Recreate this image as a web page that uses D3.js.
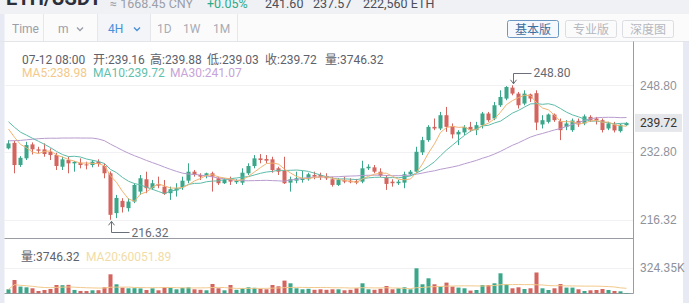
<!DOCTYPE html>
<html>
<head>
<meta charset="utf-8">
<script src="https://cdn.jsdelivr.net/npm/d3@7"></script>
<style>
  html, body { margin: 0; padding: 0; background: #fff; overflow: hidden; }
  svg { display: block; font-family: Roboto, "Noto Sans CJK SC", "Noto Sans", sans-serif; }
</style>
</head>
<body>
<svg id="chart" width="689" height="303"></svg>
<script>
// ETH/USDT 4H candles, oldest first
const opens = [
  233.57,234.90,229.55,231.16,234.53,233.33,233.33,232.75,231.96,229.14,
  230.75,229.95,230.10,229.70,229.55,230.35,229.31,227.55,217.93,220.89,
  219.13,220.72,223.13,226.11,223.95,224.98,224.33,222.74,223.40,224.19,
  225.77,227.94,227.14,226.98,227.55,226.35,225.15,226.11,225.39,225.29,
  227.55,229.31,231.16,231.00,230.92,228.76,228.18,225.29,225.77,225.94,
  226.11,227.14,227.14,226.90,226.11,224.74,225.94,225.77,225.70,225.53,
  228.76,228.99,227.94,226.50,225.53,225.15,225.29,227.31,227.94,232.60,
  235.56,238.76,238.37,241.58,238.97,236.94,237.42,238.76,237.97,239.17,
  241.99,240.78,243.98,245.59,248.24,246.80,244.39,246.60,246.90,239.34,
  239.97,241.75,240.14,238.76,237.97,240.22,239.58,241.17,240.78,240.38,
  238.37,239.34,237.73,239.16
];
const highs = [
  235.56,235.40,231.70,235.15,235.00,233.95,234.77,233.57,232.50,231.55,
  231.55,230.50,231.16,230.35,230.75,230.92,229.95,228.00,222.33,221.54,
  221.54,225.15,227.14,227.94,225.94,226.74,225.94,224.33,225.15,226.74,
  229.96,228.35,227.55,227.70,227.94,226.74,226.35,226.74,226.11,228.76,
  229.96,231.96,232.20,231.96,231.55,229.14,231.55,226.74,227.94,228.18,
  227.70,227.94,227.70,227.55,226.74,226.35,226.74,226.35,226.19,230.58,
  229.72,229.55,228.76,227.14,226.11,225.94,227.94,228.35,233.95,236.36,
  239.17,240.78,242.37,243.58,239.58,237.97,239.17,239.97,239.97,242.37,
  242.37,244.78,247.59,248.60,248.80,247.19,247.59,246.80,247.59,241.58,
  241.99,241.99,240.78,240.38,240.78,240.78,241.75,241.58,241.17,240.78,
  239.97,239.97,239.50,239.88
];
const lows = [
  233.33,227.55,229.10,230.75,232.10,232.37,231.55,230.75,228.35,228.35,
  227.55,227.94,228.75,228.50,229.00,229.14,226.35,216.32,216.73,218.08,
  218.32,220.34,222.33,222.74,223.54,223.95,222.33,221.13,221.93,223.54,
  225.15,226.74,225.94,226.35,223.13,224.74,224.98,224.74,224.98,224.74,
  227.14,228.76,229.96,229.96,227.70,227.14,224.98,223.13,225.15,225.29,
  225.77,226.11,225.94,225.94,224.33,224.50,225.15,225.15,224.90,225.15,
  228.35,227.55,226.60,223.54,224.33,224.74,223.95,226.98,227.55,231.96,
  235.15,237.97,237.97,237.56,235.97,234.36,236.77,237.56,236.77,238.37,
  239.97,240.38,243.58,245.20,246.39,243.19,243.98,244.78,237.97,238.38,
  239.58,239.97,235.56,237.97,237.56,238.76,239.17,239.97,239.34,237.42,
  237.97,237.42,237.40,239.03
];
const closes = [
  234.77,229.55,231.30,234.36,233.33,233.00,232.20,231.95,229.31,230.92,
  229.95,230.30,229.55,229.50,230.35,229.80,227.55,217.52,221.60,219.37,
  220.72,224.74,226.35,223.95,225.15,224.57,222.57,223.71,223.95,225.77,
  227.94,227.14,226.74,227.55,226.74,225.15,225.94,225.54,225.70,227.70,
  229.31,231.16,230.75,230.60,228.35,227.94,225.15,226.11,226.35,226.35,
  227.31,226.74,226.60,226.35,224.74,225.94,225.54,225.39,225.30,228.76,
  229.14,227.94,226.98,224.98,225.15,225.53,227.31,227.94,232.75,235.56,
  238.76,238.37,241.58,238.76,236.94,237.56,238.76,237.97,239.17,241.99,
  240.38,243.98,245.98,248.39,246.80,243.98,246.80,245.60,239.80,240.38,
  241.75,240.38,237.97,239.58,240.30,239.34,241.30,240.38,240.38,238.00,
  239.58,237.90,239.30,239.72
];
const volumes = [
  51900,172600,86900,77800,64900,29800,42800,55800,107700,105200,
  109800,43500,30400,28900,38900,40200,77800,246500,116800,74000,
  64900,66200,63400,42800,64900,38900,77800,68800,51900,71400,
  77800,51900,45400,38900,120700,64900,38900,107700,45400,64900,
  77800,71400,58400,51900,107700,90800,164800,129700,64900,51900,
  58400,45400,51900,45400,51900,51900,38900,45400,64900,129700,
  51900,45400,58400,94700,51900,64900,77800,51900,324350,116800,
  194600,116800,86900,138800,86900,74000,64900,35000,42800,107700,
  107700,129700,259500,116800,64900,77800,55800,64900,270000,64900,
  42800,64900,120000,74000,74000,51900,29800,38900,42800,55800,
  42800,29800,25900,3746.32
];
// closes of the candles just before the first one shown; they seed the moving averages
const priorCloses = [
  228.5,229.2,230.1,229.4,228.8,229.9,230.6,229.8,229.1,230.3,
  229.6,230.2,229.5,230.8,236.5,239.8,242.6,243.5,242.2,241.4,
  242.8,243.1,241.6,240.9,240.2,239.6,239.9,238.4,238.6
];
const priceTicks = [248.80, 232.80, 216.32];
const maPeriods = [5, 10, 30];
const maLabels = ["MA5:238.98", "MA10:239.72", "MA30:241.07"];
const lastBar = { time: "07-12 08:00", open: 239.16, high: 239.88, low: 239.03, close: 239.72, vol: 3746.32 };
const volMaLabel = "MA20:60051.89";
const quote = { cny: "≈ 1668.45 CNY", change: "+0.05%", high: "241.60", low: "237.57", amount: "222,560 ETH" };
const periods = ["1D", "1W", "1M"];
const modes = ["基本版", "专业版", "深度图"];

const UP = "#3aa78a", DOWN = "#d4645e";
const MA_COLORS = ["#f2b36f", "#5cbcaa", "#b89bcf"];
const MA_TEXT = ["#f3c98a", "#5fbfad", "#c6a3d8"];

const svg = d3.select("#chart");
const n = closes.length;
const L = 4.5, R = 633.5, TOP = 41.5, MID = 238.5, BOT = 293.5;

// page chrome
svg.append("rect").attr("x", 0).attr("y", 0).attr("width", 689).attr("height", 14).attr("fill", "#eff1f5");
svg.append("rect").attr("x", 0).attr("y", 14).attr("width", 689).attr("height", 27.5).attr("fill", "#fbfbfc");
svg.append("rect").attr("x", 97).attr("y", 14).attr("width", 53).attr("height", 27.5).attr("fill", "#f3f5f9");
svg.append("rect").attr("x", 0).attr("y", 14).attr("width", 4.5).attr("height", 289).attr("fill", "#e8eaf3");
svg.append("rect").attr("x", 683).attr("y", 41).attr("width", 6).attr("height", 262).attr("fill", "#e8eaf3");

// quote strip
svg.append("text").attr("x", 6).attr("y", 5).attr("font-size", 20).attr("font-weight", "bold").attr("fill", "#2b2f3a").text("ETH/USDT");
const qt = svg.append("g").attr("font-size", 12.5);
qt.append("text").attr("x", 110).attr("y", 8).attr("fill", "#9a9ea8").text(quote.cny);
qt.append("text").attr("x", 207).attr("y", 8).attr("fill", "#2eab88").text(quote.change);
qt.append("text").attr("x", 265).attr("y", 8).attr("fill", "#4a4e58").text(quote.high);
qt.append("text").attr("x", 313).attr("y", 8).attr("fill", "#4a4e58").text(quote.low);
qt.append("text").attr("x", 363).attr("y", 8).attr("fill", "#4a4e58").text(quote.amount);

// toolbar
const tb = svg.append("g").attr("font-size", 12).attr("dominant-baseline", "central");
[43.5, 97.5, 150.5, 237.5].forEach(v => tb.append("line").attr("x1", v).attr("x2", v).attr("y1", 14).attr("y2", 41.5).attr("stroke", "#e6e7eb"));
tb.append("line").attr("x1", 0).attr("x2", 689).attr("y1", 41.5).attr("y2", 41.5).attr("stroke", "#e4e5e9");
tb.append("text").attr("x", 12).attr("y", 29).attr("fill", "#9a9ea8").text("Time");
tb.append("text").attr("x", 58).attr("y", 28.5).attr("fill", "#9a9ea8").text("m");
tb.append("text").attr("x", 108).attr("y", 29).attr("fill", "#4a90d9").text("4H");
[[80, "#9a9ea8"], [137, "#4a90d9"]].forEach(([cx, c]) =>
  tb.append("path").attr("d", `M${cx - 3},27.5 L${cx},30.5 L${cx + 3},27.5`).attr("fill", "none").attr("stroke", c).attr("stroke-width", 1.4));
periods.forEach((p, i) => tb.append("text").attr("x", [157, 183, 213][i]).attr("y", 29).attr("fill", "#a8acb5").text(p));
modes.forEach((m, i) => {
  const bx = [507.5, 565.5, 622.5][i];
  tb.append("rect").attr("x", bx).attr("y", 20.5).attr("width", 51).attr("height", 17).attr("rx", 2)
    .attr("fill", i === 0 ? "#f5f8fc" : "#fbfbfc").attr("stroke", i === 0 ? "#6d98c3" : "#dcdde2");
  tb.append("text").attr("x", bx + 25.5).attr("y", 29.5).attr("text-anchor", "middle")
    .attr("fill", i === 0 ? "#3e6e9f" : "#b4b7be").text(m);
});

// scales
const x = d3.scaleBand().domain(d3.range(n)).range([5.5, 629.5]).paddingInner(0.33).paddingOuter(0.165);
const bw = x.bandwidth();
const cx = i => x(i) + bw / 2;
const y = d3.scaleLinear().domain([d3.min(lows), d3.max(highs)]).range([219.8, 85.3]);
const yv = d3.scaleLinear().domain([0, d3.max(volumes)]).range([293.3, 268.3]);

// grid lines
svg.append("g").selectAll("line").data(priceTicks).join("line")
  .attr("x1", L).attr("x2", R).attr("y1", d => Math.round(y(d)) + 0.5).attr("y2", d => Math.round(y(d)) + 0.5)
  .attr("stroke", "#f1f1f3");
svg.append("line").attr("x1", L).attr("x2", R).attr("y1", Math.round(yv(d3.max(volumes))) + 0.5)
  .attr("y2", Math.round(yv(d3.max(volumes))) + 0.5).attr("stroke", "#f1f1f3");

// frame
const frame = svg.append("g").attr("stroke", "#9a9ca3").attr("fill", "none");
frame.append("line").attr("x1", R).attr("x2", R).attr("y1", TOP).attr("y2", BOT);
frame.append("line").attr("x1", L).attr("x2", R).attr("y1", MID).attr("y2", MID);
frame.append("line").attr("x1", L).attr("x2", R).attr("y1", BOT).attr("y2", BOT);

// price axis
const axis = d3.axisRight(y).tickValues(priceTicks).tickSize(0).tickPadding(0).tickFormat(d3.format(".2f"));
const ag = svg.append("g").attr("transform", "translate(640,0)").call(axis);
ag.select(".domain").remove();
ag.selectAll("text").attr("fill", "#8e929b").attr("font-size", 12).attr("font-family", null);

// last price badge
const lastClose = closes[n - 1];
svg.append("rect").attr("x", 635).attr("y", y(lastClose) - 9).attr("width", 47).attr("height", 18).attr("fill", "#e6e7ea");
svg.append("text").attr("x", 640).attr("y", y(lastClose)).attr("dominant-baseline", "central")
  .attr("font-size", 12).attr("fill", "#333").text(d3.format(".2f")(lastClose));

// volume axis label
const vmax = d3.max(volumes);
svg.append("text").attr("x", 640).attr("y", yv(vmax)).attr("dominant-baseline", "central")
  .attr("font-size", 12).attr("fill", "#8e929b").text(d3.format(".2f")(vmax / 1000) + "K");

// candles
const idx = d3.range(n);
const isUp = i => closes[i] >= opens[i];
const cg = svg.append("g");
cg.selectAll("line").data(idx).join("line")
  .attr("x1", cx).attr("x2", cx).attr("y1", i => y(highs[i])).attr("y2", i => y(lows[i]))
  .attr("stroke", i => isUp(i) ? UP : DOWN).attr("stroke-width", 1);
cg.selectAll("rect").data(idx).join("rect")
  .attr("x", i => x(i)).attr("width", bw)
  .attr("y", i => y(Math.max(opens[i], closes[i])))
  .attr("height", i => Math.max(1, Math.abs(y(opens[i]) - y(closes[i]))))
  .attr("fill", i => isUp(i) ? UP : DOWN);

// moving averages
function movingAverage(seed, values, period) {
  const all = seed.concat(values);
  const off = seed.length;
  return values.map((_, i) => {
    const end = off + i + 1;
    return d3.mean(all.slice(Math.max(0, end - period), end));
  });
}
const line = d3.line().x((d, i) => cx(i)).y(d => d);
maPeriods.slice().reverse().forEach((p, k) => {
  const j = maPeriods.length - 1 - k;
  const ma = movingAverage(priorCloses, closes, p);
  svg.append("path").attr("d", line(ma.map(v => y(v))))
    .attr("fill", "none").attr("stroke", MA_COLORS[j]).attr("stroke-width", 1);
});

// volume bars
svg.append("g").selectAll("rect").data(idx).join("rect")
  .attr("x", i => x(i)).attr("width", bw)
  .attr("y", i => yv(volumes[i])).attr("height", i => Math.max(0.6, yv(0) - yv(volumes[i])))
  .attr("fill", i => isUp(i) ? UP : DOWN);
const volMa = movingAverage([], volumes, 20);
svg.append("path").attr("d", line(volMa.map(v => yv(v))))
  .attr("fill", "none").attr("stroke", "#f3c98a").attr("stroke-width", 1);

// highest / lowest markers
const hi = d3.maxIndex(highs), lo = d3.minIndex(lows);
const mk = svg.append("g").attr("stroke", "#6b6f78").attr("fill", "none").attr("stroke-width", 1);
const hx = Math.round(cx(hi)) + 0.5, hy = y(highs[hi]) - 1.5;
mk.append("path").attr("d", `M${hx},${hy} L${hx},73.5 L${hx + 18},73.5`);
mk.append("path").attr("d", `M${hx - 3},${hy - 4} L${hx},${hy} L${hx + 3},${hy - 4}`);
const lx = Math.round(cx(lo)) + 0.5, ly = y(lows[lo]) + 1.5;
mk.append("path").attr("d", `M${lx},${ly} L${lx},232.5 L${lx + 18},232.5`);
mk.append("path").attr("d", `M${lx - 3},${ly + 4} L${lx},${ly} L${lx + 3},${ly + 4}`);
svg.append("text").attr("x", hx + 20).attr("y", 73).attr("dominant-baseline", "central")
  .attr("font-size", 12).attr("fill", "#666a73").text(d3.format(".2f")(highs[hi]));
svg.append("text").attr("x", lx + 20).attr("y", 232.5).attr("dominant-baseline", "central")
  .attr("font-size", 12).attr("fill", "#666a73").text(d3.format(".2f")(lows[lo]));

// info lines
const f2 = d3.format(".2f");
const info = svg.append("g").attr("font-size", 12).attr("dominant-baseline", "central");
[[22, lastBar.time], [93, "开:" + f2(lastBar.open)], [150, "高:" + f2(lastBar.high)],
 [207, "低:" + f2(lastBar.low)], [265, "收:" + f2(lastBar.close)], [325, "量:" + f2(lastBar.vol)]]
  .forEach(([tx, t]) => info.append("text").attr("x", tx).attr("y", 60).attr("fill", "#5d616b").text(t));
maLabels.forEach((t, i) => info.append("text").attr("x", [22, 93, 170][i]).attr("y", 73).attr("fill", MA_TEXT[i]).text(t));
info.append("text").attr("x", 21).attr("y", 256.5).attr("fill", "#5d616b").text("量:" + f2(lastBar.vol));
info.append("text").attr("x", 86).attr("y", 256.5).attr("fill", "#f1dca6").text(volMaLabel);
</script>
</body>
</html>
